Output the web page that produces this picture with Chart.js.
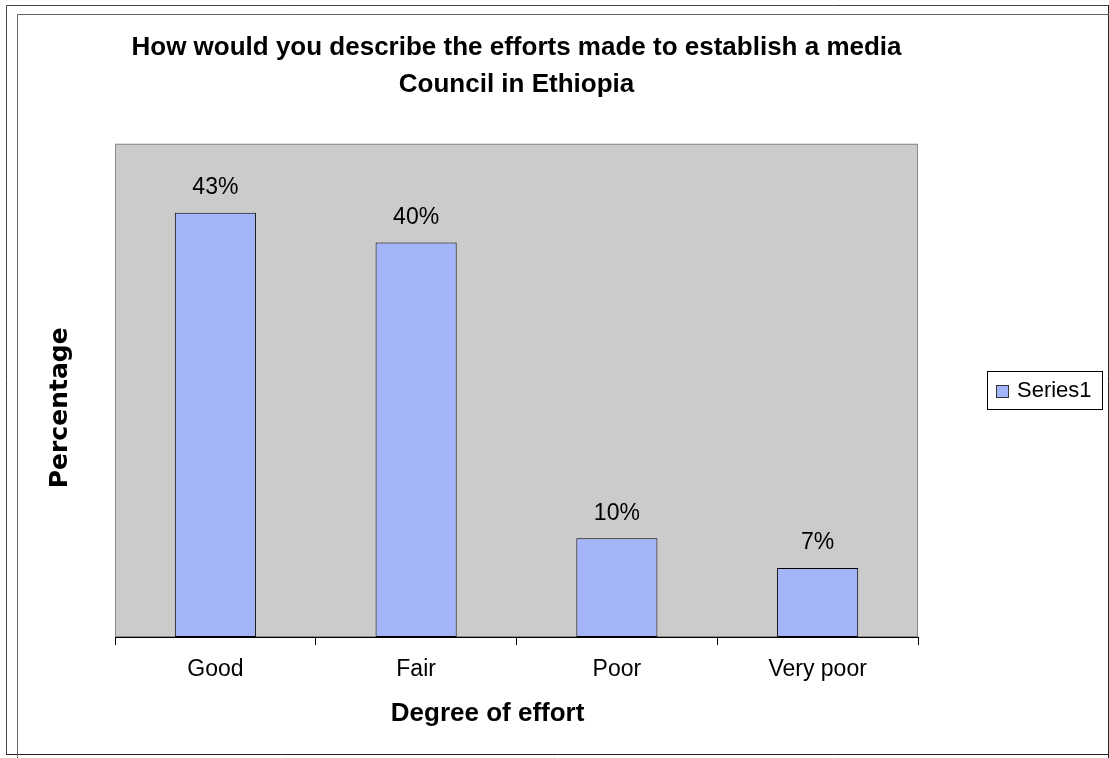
<!DOCTYPE html>
<html>
<head>
<meta charset="utf-8">
<script src="https://cdn.jsdelivr.net/npm/chart.js@4"></script>
<style>
  html, body { margin: 0; padding: 0; background: #fff; }
  #wrap { width: 1109px; height: 758px; position: relative; }
</style>
</head>
<body>
<div id="wrap"><canvas id="c" width="1109" height="758"></canvas></div>
<script>
const categories = ['Good', 'Fair', 'Poor', 'Very poor'];
const seriesValues = [43, 40, 10, 7];
const valueLabels = ['43%', '40%', '10%', '7%'];
const seriesName = 'Series1';
const titleLines = ['How would you describe the efforts made to establish a media', 'Council in Ethiopia'];
const xTitle = 'Degree of effort';
const yTitle = 'Percentage';

const BAR_COLOR = '#A4B4F8';
const SANS = '"Liberation Sans", Arial, sans-serif';

const framePlugin = {
  id: 'frame',
  beforeDraw(chart) {
    const ctx = chart.ctx;
    const a = chart.chartArea;
    ctx.save();
    ctx.fillStyle = '#fff';
    ctx.fillRect(0, 0, chart.width, chart.height);
    ctx.fillStyle = '#CBCBCB';
    ctx.fillRect(a.left, a.top, a.right - a.left, a.bottom - a.top);
    ctx.strokeStyle = '#8A8A8A';
    ctx.lineWidth = 1;
    ctx.strokeRect(a.left + 0.5, a.top + 0.5, a.right - a.left - 1, a.bottom - a.top - 1);
    ctx.restore();
  },
  afterDraw(chart) {
    const ctx = chart.ctx;
    ctx.save();
    ctx.lineWidth = 1;
    ctx.strokeStyle = '#444';
    ctx.beginPath();
    ctx.moveTo(6.5, 755); ctx.lineTo(6.5, 5.5); ctx.lineTo(1109, 5.5);
    ctx.stroke();
    ctx.strokeStyle = '#222';
    ctx.beginPath();
    ctx.moveTo(6, 754.5); ctx.lineTo(1109, 754.5);
    ctx.moveTo(1108.5, 5); ctx.lineTo(1108.5, 758);
    ctx.stroke();
    ctx.strokeStyle = '#666';
    ctx.beginPath();
    ctx.moveTo(17.5, 758); ctx.lineTo(17.5, 14.5); ctx.lineTo(1109, 14.5);
    ctx.stroke();
    // legend
    ctx.strokeStyle = '#000';
    ctx.fillStyle = '#fff';
    ctx.fillRect(987.5, 371.5, 115, 38);
    ctx.strokeRect(987.5, 371.5, 115, 38);
    ctx.fillStyle = BAR_COLOR;
    ctx.fillRect(996.5, 385.5, 12, 12);
    ctx.strokeStyle = '#333';
    ctx.strokeRect(996.5, 385.5, 12, 12);
    ctx.fillStyle = '#000';
    ctx.font = '22px ' + SANS;
    ctx.textBaseline = 'middle';
    ctx.textAlign = 'left';
    ctx.fillText(chart.data.datasets[0].label, 1017, 391);
    ctx.restore();
  }
};

const valueLabelPlugin = {
  id: 'valueLabels',
  afterDatasetsDraw(chart) {
    const ctx = chart.ctx;
    const meta = chart.getDatasetMeta(0);
    ctx.save();
    ctx.fillStyle = '#000';
    ctx.font = '23px ' + SANS;
    ctx.textAlign = 'center';
    ctx.textBaseline = 'middle';
    meta.data.forEach((bar, i) => {
      ctx.fillText(valueLabels[i], bar.x, bar.y - 25);
    });
    ctx.restore();
  }
};

Chart.defaults.color = '#000';

new Chart(document.getElementById('c'), {
  type: 'bar',
  data: {
    labels: categories,
    datasets: [{
      label: seriesName,
      data: seriesValues,
      backgroundColor: BAR_COLOR,
      borderColor: '#000',
      borderWidth: 1,
      borderSkipped: false,
      barPercentage: 0.404,
      categoryPercentage: 1.0
    }]
  },
  options: {
    responsive: false,
    animation: false,
    devicePixelRatio: 1,
    layout: { padding: { left: 0, right: 191, top: 0, bottom: 0 } },
    plugins: {
      legend: { display: false },
      tooltip: { enabled: false },
      title: {
        display: true,
        fullSize: false,
        text: titleLines,
        color: '#000',
        font: { family: SANS, size: 26, weight: 'bold', lineHeight: 1.4 },
        padding: { top: 30, bottom: 41 }
      }
    },
    scales: {
      x: {
        offset: true,
        grid: { offset: true, drawOnChartArea: false, drawTicks: true, tickLength: 8, color: '#000', lineWidth: 1 },
        border: { display: true, color: '#000', width: 1 },
        ticks: { font: { family: SANS, size: 23 }, padding: 11, color: '#000', maxRotation: 0 },
        title: {
          display: true,
          text: xTitle + '        ',
          color: '#000',
          font: { family: SANS, size: 26, weight: 'bold' },
          padding: { top: 0, bottom: 29 }
        },
        afterFit(scale) { scale.height = 121; }
      },
      y: {
        min: 0,
        max: 50,
        grid: { display: false },
        border: { display: false },
        ticks: { display: false },
        title: {
          display: true,
          text: yTitle + '    ',
          color: '#000',
          font: { family: '"DejaVu Sans", Verdana, sans-serif', size: 25, weight: 'bold' },
          padding: { top: 45, bottom: 0 }
        },
        afterFit(scale) { scale.width = 115; }
      }
    }
  },
  plugins: [framePlugin, valueLabelPlugin]
});
</script>
</body>
</html>
